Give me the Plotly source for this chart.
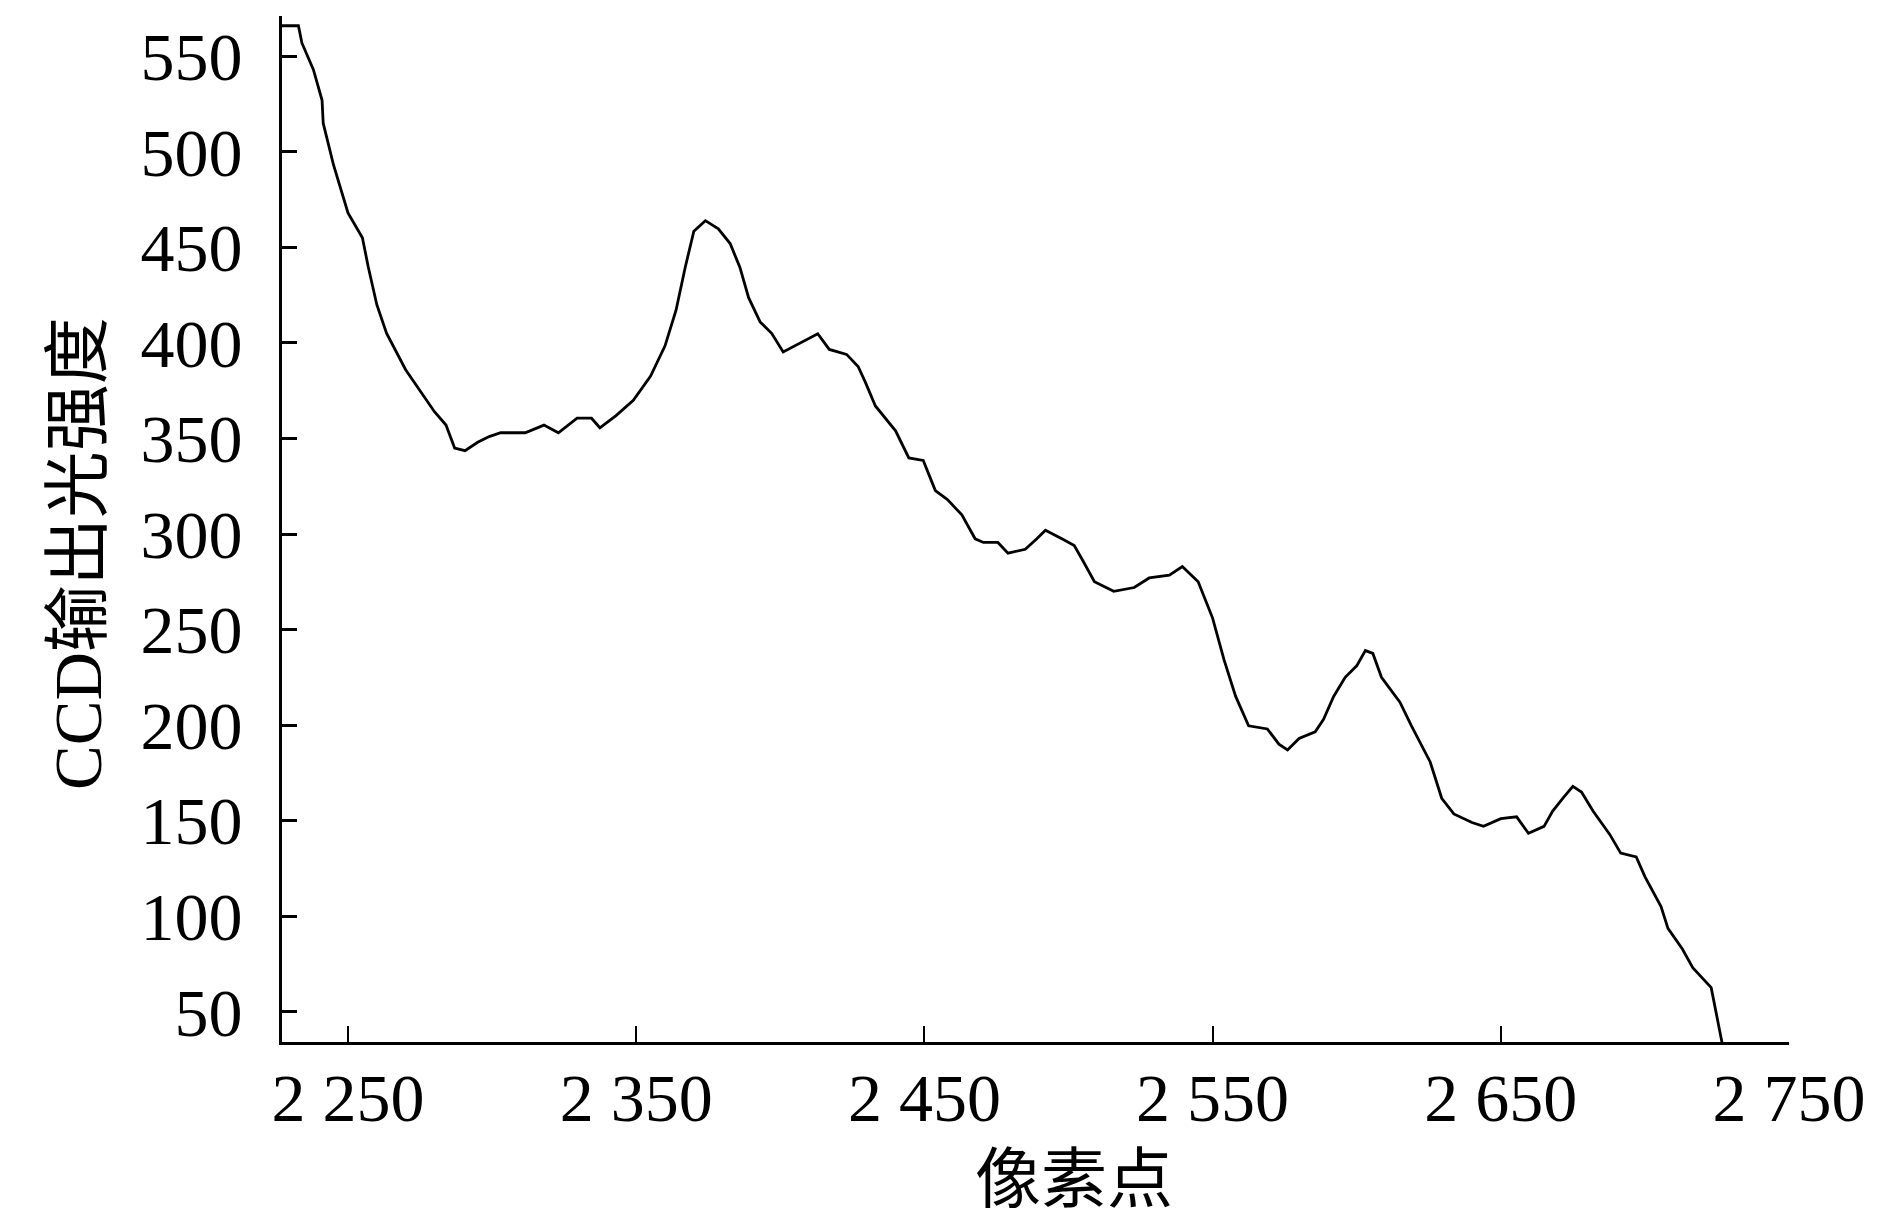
import plotly.graph_objects as go

# Data
pixel = [2227, 2232.8, 2234, 2238, 2241, 2241.4, 2245, 2250, 2255, 2257, 2260, 2263.4, 2270, 2276,
         2280, 2284, 2287, 2290.6, 2295, 2299, 2303, 2311.5, 2318, 2323, 2329.5, 2334.5, 2337.4,
         2343, 2349, 2355, 2360, 2363.8, 2367, 2370, 2374, 2378.5, 2382.6, 2386, 2389, 2393, 2397,
         2401, 2406.5, 2413, 2417, 2423, 2427, 2429.5, 2433, 2440, 2444.6, 2449.6, 2453.8, 2458,
         2463, 2467.6, 2470.5, 2475.5, 2479, 2485, 2489, 2492, 2497.7, 2502, 2505, 2509, 2515.7,
         2522.8, 2528, 2535, 2539.5, 2545, 2550, 2554, 2558, 2562.5, 2569, 2573, 2576, 2580,
         2585.6, 2588.5, 2592, 2596, 2600, 2603, 2605.6, 2608.6, 2615, 2619, 2625.5, 2629.5,
         2633.7, 2640, 2644, 2650, 2655.5, 2659.6, 2665, 2668, 2671.5, 2675, 2678, 2682, 2687.8,
         2691.6, 2697, 2700, 2705.6, 2708, 2713, 2716.6, 2723, 2727]
intensity = [566, 566, 557, 543, 527, 515, 493, 468, 455, 440, 420, 405, 386, 373,
             364, 357, 345, 343.6, 348, 351, 353, 353, 357, 353, 360.6, 360.6, 355.6,
             362, 370, 382.7, 398.5, 417, 439.5, 458.5, 464, 459.7, 452, 439.5, 423.7, 411, 405,
             395.3, 399.7, 404.8, 396.6, 394, 387.7, 379.5, 367, 354, 339.8, 338.5, 322.7, 318,
             310, 297.5, 295.6, 295.6, 290, 292, 297.5, 302, 297.5, 294, 286, 275, 270,
             272, 277, 278.5, 283, 275, 256, 234, 215, 199.6, 198, 190, 187, 193,
             196.5, 203, 215, 225, 231, 239, 237.5, 225, 212, 199.6, 180.7, 161.7,
             153.5, 149, 147, 151, 152, 143.4, 147, 155, 161.7, 168, 165, 155, 142.8,
             133, 131, 120.7, 105, 93.6, 82.8, 73, 62.6, 32]

x_tick_vals = [2250, 2350, 2450, 2550, 2650, 2750]
x_tick_text = ["2 250", "2 350", "2 450", "2 550", "2 650", "2 750"]
y_tick_vals = [50, 100, 150, 200, 250, 300, 350, 400, 450, 500, 550]

x_title = "像素点"
y_title = "CCD输出光强度"

FONT = "Liberation Serif, Times New Roman, Noto Sans CJK SC, serif"

L, R, T, B = 274, 109, 8, 194
W, H = 1890, 1228
PW, PH = W - L - R, H - T - B

fig = go.Figure()
fig.add_trace(go.Scatter(x=pixel, y=intensity, mode="lines",
                         line=dict(color="black", width=2.8), showlegend=False))

fig.update_layout(
    width=W, height=H,
    margin=dict(l=L, r=R, t=T, b=B, autoexpand=False),
    paper_bgcolor="white", plot_bgcolor="white",
    font=dict(family=FONT, size=68, color="black"),
)
fig.update_xaxes(
    range=[2227.1, 2750], tickvals=x_tick_vals, ticktext=x_tick_text, automargin=False,
    showgrid=False, zeroline=False, showline=True, linecolor="black", linewidth=3,
    ticks="inside", ticklen=16, tickwidth=2, tickcolor="black",
    tickfont=dict(family=FONT, size=68), ticklabelstandoff=-6,
)
fig.update_yaxes(
    range=[34.15, 571.1], tickvals=y_tick_vals, automargin=False,
    showgrid=False, zeroline=False, showline=True, linecolor="black", linewidth=3,
    ticks="inside", ticklen=15, tickwidth=3, tickcolor="black",
    tickfont=dict(family=FONT, size=68), ticklabelstandoff=23,
)
fig.add_annotation(text=x_title, xref="paper", yref="paper",
                   x=(1066 - L) / PW, y=-(1171 - (H - B)) / PH,
                   showarrow=False, font=dict(family=FONT, size=66), xanchor="center", yanchor="middle")
fig.add_annotation(text=y_title, xref="paper", yref="paper", textangle=-90,
                   x=-(L - 70) / PW, y=((H - B) - 546) / PH,
                   showarrow=False, font=dict(family=FONT, size=67), xanchor="center", yanchor="middle")

fig.write_html("out.html")
